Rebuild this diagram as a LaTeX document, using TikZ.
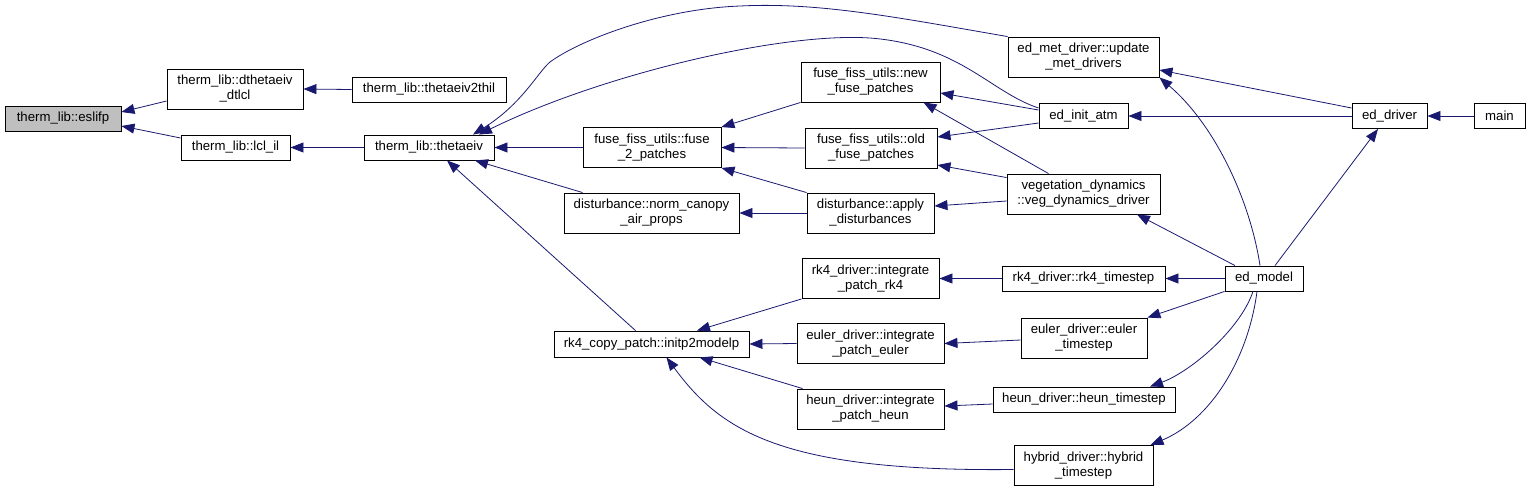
\documentclass[tikz,border=0pt]{standalone}
\usepackage{fontspec}
\setmainfont{Liberation Sans}
\usetikzlibrary{arrows.meta}
\definecolor{edgeblue}{HTML}{191970}
\definecolor{focusgrey}{HTML}{BFBFBF}
\tikzset{
  box/.style={draw=black, fill=white, line width=0.9pt, inner sep=0pt, align=center,
              font=\fontsize{13.2pt}{15pt}\selectfont},
  edge/.style={draw=edgeblue, line width=0.8pt,
              -{Triangle[length=13pt,width=10pt,fill=edgeblue]}},
}
\begin{document}
\begin{tikzpicture}[x=1pt,y=-1pt]
\useasboundingbox (0,0) rectangle (1531,491);
% nodes
\node[box,minimum width=116pt,minimum height=25pt,fill=focusgrey] (eslifp) at (63,118.5) {therm\_lib::eslifp};
\node[box,minimum width=136pt,minimum height=40pt] (dth) at (235,89) {therm\_lib::dthetaeiv\\\_dtlcl};
\node[box,minimum width=109pt,minimum height=25pt] (lcl) at (235.5,147.5) {therm\_lib::lcl\_il};
\node[box,minimum width=154pt,minimum height=25pt] (t2t) at (429,89.5) {therm\_lib::thetaeiv2thil};
\node[box,minimum width=130pt,minimum height=25pt] (the) at (429,147.5) {therm\_lib::thetaeiv};
\node[box,minimum width=138pt,minimum height=40pt] (f2p) at (652,147.5) {fuse\_fiss\_utils::fuse\\\_2\_patches};
\node[box,minimum width=139pt,minimum height=40pt] (nfp) at (870.5,82) {fuse\_fiss\_utils::new\\\_fuse\_patches};
\node[box,minimum width=132pt,minimum height=40pt] (ofp) at (871,148) {fuse\_fiss\_utils::old\\\_fuse\_patches};
\node[box,minimum width=175pt,minimum height=40pt] (nca) at (651.5,213) {disturbance::norm\_canopy\\\_air\_props};
\node[box,minimum width=127pt,minimum height=40pt] (apd) at (870.5,213) {disturbance::apply\\\_disturbances};
\node[box,minimum width=195pt,minimum height=26pt] (i2m) at (651.5,344) {rk4\_copy\_patch::initp2modelp};
\node[box,minimum width=137pt,minimum height=40pt] (ipr) at (870.5,278.5) {rk4\_driver::integrate\\\_patch\_rk4};
\node[box,minimum width=147pt,minimum height=40pt] (ipe) at (870.5,343.5) {euler\_driver::integrate\\\_patch\_euler};
\node[box,minimum width=147pt,minimum height=40pt] (iph) at (870.5,409) {heun\_driver::integrate\\\_patch\_heun};
\node[box,minimum width=151pt,minimum height=40pt] (umd) at (1083.5,57) {ed\_met\_driver::update\\\_met\_drivers};
\node[box,minimum width=89pt,minimum height=25pt] (eia) at (1083.5,116) {ed\_init\_atm};
\node[box,minimum width=153pt,minimum height=40pt] (vdd) at (1083.5,194) {vegetation\_dynamics\\::veg\_dynamics\_driver};
\node[box,minimum width=163pt,minimum height=25pt] (rts) at (1083.5,278.5) {rk4\_driver::rk4\_timestep};
\node[box,minimum width=126pt,minimum height=40pt] (ets) at (1084,338) {euler\_driver::euler\\\_timestep};
\node[box,minimum width=182pt,minimum height=25pt] (hts) at (1084,399.5) {heun\_driver::heun\_timestep};
\node[box,minimum width=139pt,minimum height=40pt] (hyt) at (1083.5,465.5) {hybrid\_driver::hybrid\\\_timestep};
\node[box,minimum width=78pt,minimum height=25pt] (edm) at (1264,278.5) {ed\_model};
\node[box,minimum width=75pt,minimum height=25pt] (edd) at (1389.5,116) {ed\_driver};
\node[box,minimum width=51pt,minimum height=25pt] (main) at (1499.5,116) {main};
% edges (caller -> callee, arrow at callee)
\draw[edge] ([yshift=-12pt]dth.west) -- ([yshift=6.5pt]eslifp.east);
\draw[edge] ([yshift=9.5pt]lcl.west) -- ([yshift=-7.5pt]eslifp.east);
\draw[edge] (t2t.west) -- (dth.east);
\draw[edge] (the.west) -- (lcl.east);
\draw[edge] (umd.north west) .. controls (900,18) and (820,2) .. (740,6)
   .. controls (660,9) and (580,40) .. (550,62)
   .. controls (538,72) and (522,104) .. ([xshift=44pt]the.north);
\draw[edge] ([yshift=8pt]eia.west) .. controls (990,92) and (960,45) .. (870,38)
   .. controls (780,32) and (600,75) .. ([xshift=50pt]the.north);
\draw[edge] (f2p.west) -- (the.east);
\draw[edge] ([xshift=19pt]nca.north west) -- ([xshift=46pt]the.south);
\draw[edge] ([xshift=-16pt]i2m.north) -- ([xshift=18pt]the.south);
\draw[edge] (nfp.south west) -- (f2p.north east);
\draw[edge] (ofp.west) -- (f2p.east);
\draw[edge] (apd.north west) -- (f2p.south east);
\draw[edge] (apd.west) -- (nca.east);
\draw[edge] ([yshift=6pt]eia.west) -- ([yshift=-11pt]nfp.east);
\draw[edge] ([xshift=-35pt]vdd.north) -- ([xshift=53pt]nfp.south);
\draw[edge] ([yshift=-7pt]eia.west) -- ([yshift=11pt]ofp.east);
\draw[edge] ([yshift=-4pt]vdd.north west) -- ([yshift=-17pt]ofp.east);
\draw[edge] ([yshift=-7pt]vdd.west) -- ([yshift=7pt]apd.east);
\draw[edge] ([yshift=8pt]edd.west) -- ([yshift=-13pt]umd.east);
\draw[edge] ([xshift=-4pt]edm.north) .. controls (1250,200) and (1215,125) .. (umd.south east);
\draw[edge] (edd.west) -- (eia.east);
\draw[edge] (main.west) -- (edd.east);
\draw[edge] ([xshift=11pt]edm.north) -- ([xshift=-11.5pt]edd.south);
\draw[edge] ([xshift=-29pt]edm.north) -- ([xshift=53.5pt]vdd.south);
\draw[edge] (edm.west) -- (rts.east);
\draw[edge] (edm.south west) -- (ets.north east);
\draw[edge] ([xshift=-11pt]edm.south) .. controls (1240,330) and (1190,372) .. ([xshift=66pt]hts.north);
\draw[edge] ([xshift=-7pt]edm.south) .. controls (1248,360) and (1210,420) .. ([xshift=67pt]hyt.north);
\draw[edge] (rts.west) -- (ipr.east);
\draw[edge] ([yshift=-2pt]ets.west) -- (ipe.east);
\draw[edge] ([yshift=-4.5pt]hts.west) -- ([yshift=3pt]iph.east);
\draw[edge] ([yshift=-4pt]hyt.west) .. controls (780,472) and (720,430) .. ([xshift=15pt]i2m.south);
\draw[edge] (ipr.south west) -- ([xshift=45.5pt]i2m.north);
\draw[edge] (ipe.west) -- (i2m.east);
\draw[edge] ([xshift=6pt]iph.north west) -- ([xshift=48pt]i2m.south);
\end{tikzpicture}
\end{document}
